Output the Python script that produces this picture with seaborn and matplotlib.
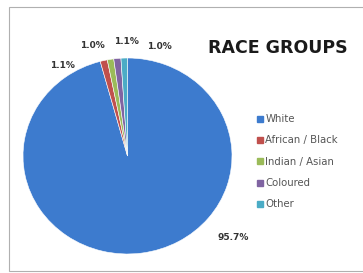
import matplotlib
matplotlib.use("Agg")
import matplotlib.pyplot as plt
import seaborn as sns
from matplotlib.patches import Rectangle
from matplotlib.lines import Line2D

sns.set_theme(style="white")
plt.rcParams['font.family'] = ['DejaVu Sans']

categories = ["White", "African / Black", "Indian / Asian", "Coloured", "Other"]
values = [95.7, 1.1, 1.0, 1.1, 1.0]
colors = ["#3D7BCE", "#C0504D", "#9BBB59", "#8064A2", "#4BACC6"]
title = "RACE GROUPS"

W, H = 363, 273
fig = plt.figure(figsize=(W / 100, H / 100), dpi=100)
fig.patch.set_facecolor("white")

cx, cy, rx, ry = 127.5, 156, 104.5, 98
ax = fig.add_axes([(cx - rx) / W, (H - cy - ry) / H, 2 * rx / W, 2 * ry / H])
ax.pie(values, colors=colors, startangle=90, counterclock=False,
       wedgeprops=dict(edgecolor="white", linewidth=0.4))
ax.set_aspect("auto")
ax.set_xlim(-1, 1)
ax.set_ylim(-1, 1)
ax.axis("off")

# percentage labels (pixel positions)
label_pos = [(233, 237), (62, 66), (92, 45), (126, 42), (159, 46)]
for v, (px, py) in zip(values, label_pos):
    fig.text(px / W, 1 - py / H, f"{v:.1f}%", ha="center", va="center",
             fontsize=6.5, fontweight="bold", color="#333333")

fig.text(278 / W, 1 - 48 / H, title, ha="center", va="center",
         fontsize=12.5, fontweight="bold", color="#1a1a1a")

handles = [Line2D([0], [0], marker="s", linestyle="none", markersize=4,
                  markerfacecolor=c, markeredgecolor=c) for c in colors]
leg = fig.legend(handles, categories, loc="upper left",
                 bbox_to_anchor=(250 / W, 1 - 109 / H), frameon=False,
                 fontsize=7.3, labelcolor="#555555", handletextpad=0.0,
                 handlelength=1.0, labelspacing=1.12, borderpad=0)

fig.add_artist(Rectangle((9 / W, 2 / H), (W - 8) / W, (H - 9) / H,
                         transform=fig.transFigure, fill=False,
                         edgecolor="#b0b0b0", linewidth=0.8))

fig.savefig("out.png", dpi=100)
